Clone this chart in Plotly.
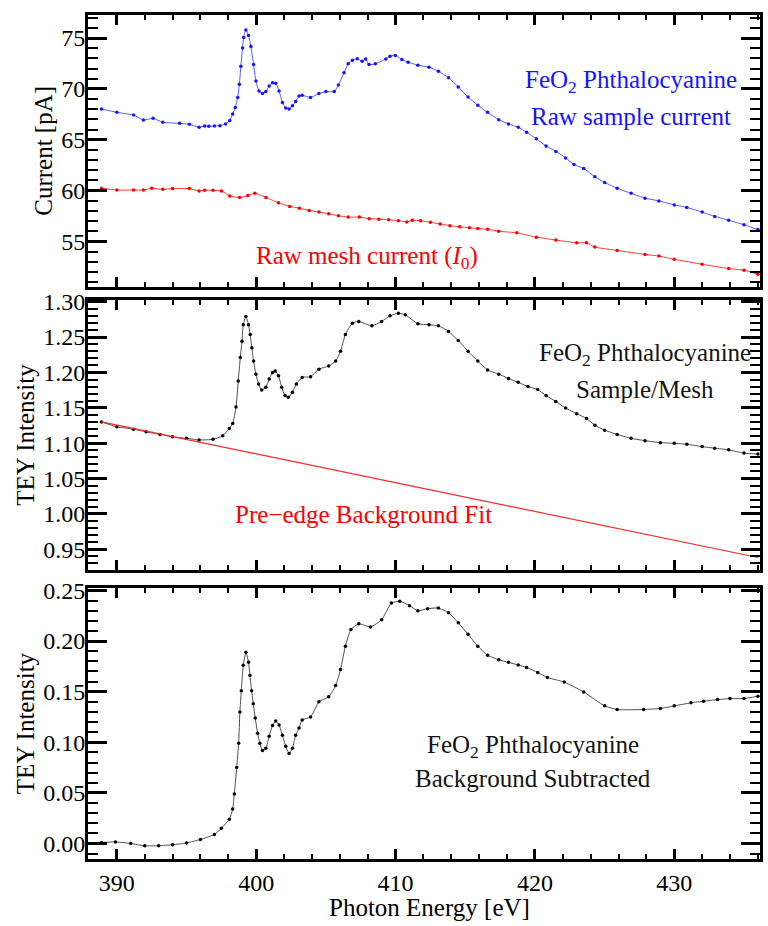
import plotly.graph_objects as go

# ---------------- data ----------------
E_sample = [388.9, 390.0, 391.2, 391.9, 392.6, 393.3, 394.5, 395.2, 395.9, 396.3, 396.6, 397.0, 397.4, 397.8,
            398.1, 398.31, 398.5, 398.67, 398.79, 398.9, 399.02, 399.1, 399.26, 399.45, 399.62, 399.81, 399.98,
            400.2, 400.45, 400.69, 400.93, 401.17, 401.4, 401.64, 401.88, 402.12, 402.36, 402.6, 402.83, 403.07,
            403.3, 403.9, 404.5, 405.0, 405.6, 405.9, 406.3, 406.6, 406.9, 407.25, 407.6,
            407.85, 408.1, 408.55, 409.3, 409.6, 409.98, 410.45, 410.9, 411.6, 412.4, 413.07, 413.8, 414.5, 415.2,
            415.9, 416.6, 417.4, 418.1, 418.8, 419.4, 420.1, 420.8, 421.5, 422.2, 422.8, 423.5, 424.3, 425.0,
            425.9, 426.9, 427.9, 428.9, 430.0, 430.9, 432.0, 432.9, 433.9, 435.0, 436.0]
I_sample = [68.02, 67.7, 67.43, 66.95, 67.11, 66.72, 66.62, 66.53, 66.24, 66.35, 66.33, 66.35, 66.39, 66.56,
            66.9, 67.53, 68.18, 69.16, 70.45, 72.24, 74.03, 75.06, 75.8, 75.25, 74.18, 72.4, 70.77,
            69.8, 69.55, 69.74, 70.29, 70.62, 70.55, 69.8, 68.67, 68.12, 68.02, 68.34, 68.77, 69.31,
            69.38, 69.16, 69.55, 69.74, 69.74, 70.38, 71.6, 72.47, 72.82, 72.98, 72.72,
            72.95, 72.4, 72.47, 72.95, 73.21, 73.3, 72.89, 72.63, 72.34, 72.14, 71.75, 71.1, 70.2, 69.2,
            68.4, 67.7, 66.98, 66.56, 66.24, 65.75, 65.1, 64.39, 63.86, 63.22, 62.57, 62.18, 61.37, 60.81,
            60.23, 59.74, 59.26, 58.99, 58.6, 58.35, 57.89, 57.47, 57.08, 56.65, 56.17]

E_mesh = [388.9, 390.0, 391.2, 391.9, 392.5, 393.3, 394.0, 395.2, 395.9, 396.3, 396.9, 397.5, 398.1, 398.8,
          399.4, 399.9, 400.7, 401.6, 402.4, 403.1, 403.8, 404.5, 405.2, 405.9, 406.6, 407.4, 408.1, 408.8,
          409.5, 410.2, 410.8, 411.2, 411.8, 412.5, 413.2, 413.9, 414.6, 415.3, 415.9, 416.6, 417.4, 418.7,
          420.1, 421.5, 423.0, 423.7, 424.3, 425.9, 427.9, 428.9, 430.0, 432.0, 433.9, 435.0, 436.0]
I_mesh = [60.23, 60.06, 60.06, 60.06, 60.23, 60.13, 60.2, 60.2, 59.97, 60.05, 60.03, 59.97, 59.48, 59.32,
          59.52, 59.74, 59.32, 58.8, 58.45, 58.28, 58.06, 57.89, 57.73, 57.53, 57.4, 57.4, 57.24, 57.2,
          57.14, 57.05, 56.92, 57.08, 57.05, 56.89, 56.72, 56.56, 56.45, 56.35, 56.28, 56.2, 56.01, 55.85,
          55.43, 55.14, 54.87, 54.87, 54.45, 54.12, 53.73, 53.57, 53.25, 52.76, 52.34, 52.18, 51.79]

E_ratio = [388.9, 390.0, 391.2, 392.1, 393.1, 394.0, 395.0, 395.9, 396.9, 397.6, 398.07, 398.31, 398.55, 398.71,
           398.86, 398.98, 399.07, 399.26, 399.45, 399.57, 399.69, 399.81, 399.98, 400.17, 400.4, 400.69, 400.93,
           401.17, 401.36, 401.6, 401.83, 402.07, 402.3, 402.6, 402.88, 403.3, 403.9, 404.5, 405.2, 405.7, 406.05,
           406.4, 406.9, 407.36, 408.3, 409.0, 409.6, 410.2, 410.7,
           411.6, 412.4, 413.07, 413.8, 414.5, 415.2, 415.9, 416.6, 417.4, 418.1, 418.8, 419.5, 420.2, 420.8,
           421.5, 422.2, 423.0, 423.7, 424.3, 425.0, 425.9, 426.9, 427.9, 429.0, 430.0, 430.9, 432.0, 432.9,
           433.9, 435.0, 436.0]
ratio = [1.130, 1.1231, 1.1198, 1.116, 1.1124, 1.109, 1.1068, 1.1045, 1.1054, 1.1105, 1.1208, 1.1278, 1.151, 1.188,
         1.221, 1.244, 1.2675, 1.279, 1.2675, 1.2535, 1.2348, 1.216, 1.1976, 1.1836, 1.1753, 1.179, 1.1906,
         1.200, 1.2022, 1.1953, 1.179, 1.1673, 1.165, 1.172, 1.1836, 1.193, 1.194, 1.2046, 1.2092, 1.216, 1.230,
         1.2535, 1.2697, 1.272, 1.266, 1.272, 1.280, 1.2837, 1.2814,
         1.2689, 1.2674, 1.266, 1.258, 1.245, 1.230, 1.216, 1.2036, 1.1976, 1.1915, 1.186, 1.180, 1.1757, 1.1673,
         1.159, 1.1496, 1.1417, 1.1348, 1.1254, 1.1184, 1.1124, 1.1068, 1.1035, 1.1007, 1.0998, 1.0985, 1.0951, 1.0929,
         1.0905, 1.0859, 1.0845]

E_fit = [388.9, 436.0]
fit = [1.130, 0.9383]

E_sub = [388.9, 389.9, 391.0, 392.0, 393.0, 394.0, 395.0, 396.0, 397.0, 397.5, 398.07, 398.31, 398.43, 398.6,
         398.74, 398.83, 398.93, 399.07, 399.26, 399.45, 399.55, 399.67, 399.79, 399.93, 400.1, 400.26, 400.45,
         400.69, 400.93, 401.17, 401.4, 401.64, 401.88, 402.12, 402.36, 402.6, 402.83, 403.07,
         403.3, 403.9, 404.5, 405.2, 405.7, 406.05, 406.4, 406.8, 407.36, 408.2, 409.0, 409.7, 410.3, 411.0,
         411.6, 412.3, 413.07, 413.8, 414.5, 415.2, 415.9, 416.6, 417.4, 418.1, 418.8, 419.4, 420.2, 420.9,
         422.1, 423.5, 425.0, 425.9, 427.8, 429.0, 430.0, 431.2, 432.1, 433.1, 434.0, 435.0, 436.0]
sub = [0.001, 0.0016, 0.0, -0.0023, -0.0022, -0.0012, 0.0005, 0.004, 0.009, 0.015, 0.024, 0.034, 0.049, 0.075,
       0.099, 0.130, 0.151, 0.176, 0.189, 0.179, 0.166, 0.151, 0.138, 0.124, 0.109, 0.099, 0.092,
       0.094, 0.106, 0.1165, 0.121, 0.117, 0.107, 0.096, 0.089, 0.094, 0.107, 0.114,
       0.122, 0.125, 0.140, 0.145, 0.156, 0.172, 0.195, 0.2115, 0.217, 0.214, 0.221, 0.2376, 0.2393, 0.235,
       0.230, 0.232, 0.2327, 0.228, 0.218, 0.2067, 0.195, 0.186, 0.1816, 0.179, 0.1764, 0.174, 0.169, 0.164,
       0.1595, 0.1497, 0.136, 0.1324, 0.1324, 0.1334, 0.136, 0.139, 0.1406, 0.1422, 0.1432, 0.1432, 0.1455]

# ---------------- figure ----------------
FONT = "Liberation Serif, Times New Roman, Times, serif"
fig = go.Figure()

def curve(x, y, line_color, dot_color, xa, ya):
    fig.add_trace(go.Scatter(
        x=x, y=y, xaxis=xa, yaxis=ya, mode="lines+markers",
        line=dict(color=line_color, width=1, shape="spline", smoothing=0.5),
        marker=dict(color=dot_color, size=3.5),
        showlegend=False, hoverinfo="skip"))

curve(E_sample, I_sample, "rgb(90,90,255)", "rgb(20,20,255)", "x", "y")
curve(E_mesh, I_mesh, "rgb(255,60,60)", "rgb(255,0,0)", "x", "y")
curve(E_ratio, ratio, "rgb(80,80,80)", "black", "x2", "y2")
fig.add_trace(go.Scatter(x=E_fit, y=fit, xaxis="x2", yaxis="y2", mode="lines",
                         line=dict(color="rgb(255,40,40)", width=1.2), showlegend=False, hoverinfo="skip"))
curve(E_sub, sub, "rgb(80,80,80)", "black", "x3", "y3")

XR = [387.93, 436.15]
tickfont = dict(family=FONT, size=24, color="black")
titlefont = dict(family=FONT, size=25, color="black")

def xaxis(anchor, labels):
    return dict(range=XR, anchor=anchor, showline=True, linewidth=3, linecolor="black", mirror="ticks",
                ticks="inside", ticklen=10, tickwidth=2.5, tickcolor="black", dtick=10, tick0=390,
                minor=dict(ticks="inside", ticklen=5, tickwidth=2, tickcolor="black", dtick=2),
                showticklabels=labels, tickfont=tickfont, showgrid=False, zeroline=False)

def yaxis(anchor, dom, rng, dtick, mdtick, title, fmt):
    return dict(domain=dom, range=rng, anchor=anchor, showline=True, linewidth=3, linecolor="black",
                mirror="ticks", ticks="inside", ticklen=19, tickwidth=2.5, tickcolor="black",
                dtick=dtick, tick0=0, tickformat=fmt, ticklabelstandoff=-5,
                minor=dict(ticks="inside", ticklen=10, tickwidth=2, tickcolor="black", dtick=mdtick),
                tickfont=tickfont, showgrid=False, zeroline=False,
                title=dict(text=title, font=titlefont, standoff=2))

fig.update_layout(
    width=768, height=926,
    margin=dict(l=88, r=5, t=5, b=67),
    paper_bgcolor="white", plot_bgcolor="white",
    xaxis=xaxis("y", False),
    xaxis2=xaxis("y2", False),
    xaxis3=xaxis("y3", True),
    yaxis=yaxis("x", [0.678, 1.0], [50.55, 77.27], 5, 1, "Current [pA]", ""),
    yaxis2=yaxis("x2", [0.3419, 0.6628], [0.920, 1.303], 0.05, 0.01, "TEY Intensity", ".2f"),
    yaxis3=yaxis("x3", [0.0, 0.3208], [-0.0153, 0.2522], 0.05, 0.01, "TEY Intensity", ".2f"),
)

def note(text, x, y, xr, yr, color, size=25):
    fig.add_annotation(text=text, x=x, y=y, xref=xr, yref=yr, showarrow=False,
                       font=dict(family=FONT, size=size, color=color), xanchor="center", yanchor="middle")

note("FeO<sub>2</sub> Phthalocyanine", 426.86, 70.74, "x", "y", "rgb(20,20,255)")
note("Raw sample current", 426.86, 67.33, "x", "y", "rgb(20,20,255)")
note("Raw mesh current (<i>I</i><sub>0</sub>)", 407.93, 53.41, "x", "y", "rgb(255,0,0)")
note("FeO<sub>2</sub> Phthalocyanine", 427.93, 1.226, "x2", "y2", "rgb(20,20,20)")
note("Sample/Mesh", 427.93, 1.1757, "x2", "y2", "rgb(20,20,20)")
note("Pre\u2212edge Background Fit", 407.71, 0.9997, "x2", "y2", "rgb(255,0,0)")
note("FeO<sub>2</sub> Phthalocyanine", 419.86, 0.096, "x3", "y3", "rgb(20,20,20)")
note("Background Subtracted", 419.86, 0.0647, "x3", "y3", "rgb(20,20,20)")
# x-axis title (placed as in the reference, slightly right of the plot centre)
fig.add_annotation(text="Photon Energy [eV]", x=(431 - 88) / 675, y=-49 / 854, xref="paper", yref="paper",
                   showarrow=False, font=titlefont, xanchor="center", yanchor="middle")

fig.write_html("out.html")
